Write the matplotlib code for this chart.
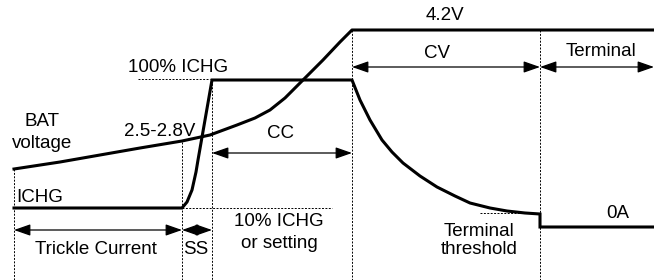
import matplotlib.pyplot as plt

plt.rcParams['font.family'] = ['Liberation Sans', 'DejaVu Sans']

# battery voltage curve (diagram units, y grows downward)
volt_x = [14, 60, 100, 140, 182, 210, 237, 255, 270, 285, 303, 323, 340, 352, 654]
volt_y = [169, 162, 155, 148, 141, 135, 125, 118, 110, 98, 80, 60, 42, 30, 30]

# charge current curve
cur_x = [14, 182, 187, 192, 196, 198, 212, 352, 360, 370, 382, 392, 403, 420,
         437, 455, 470, 490, 507, 525, 540, 540, 654]
cur_y = [208, 208, 202, 190, 172, 160, 80, 80, 100, 120, 140, 152, 163, 176,
         187, 196, 203, 208, 211, 213, 214, 227, 227]

# phase boundaries (x, top of dashed line)
bounds_x = [14, 182, 212, 352, 540]
bounds_top = [169, 142, 80, 30, 30]

# phase arrows: (x0, x1, y)
phases = [(14, 182, 230), (182, 212, 230), (212, 352, 153),
          (352, 540, 67), (540, 654, 67)]

# dashed level markers: (x0, x1, y)
levels = [(138, 210, 79), (182, 332, 208), (480, 540, 213)]

labels = [
    (445, 15, '4.2V'), (178, 67, '100% ICHG'), (42, 121, 'BAT'),
    (42, 143, 'voltage'), (160, 132, '2.5-2.8V'), (280, 133, 'CC'),
    (437, 53, 'CV'), (601, 52, 'Terminal'), (96, 250, 'Trickle Current'),
    (196, 250, 'SS'), (279, 221, '10% ICHG'), (279, 243, 'or setting'),
    (479, 232, 'Terminal'), (479, 250, 'threshold'), (618, 213, '0A'),
]

fig = plt.figure(figsize=(6.54, 2.8), dpi=100)
ax = fig.add_axes([0, 0, 1, 1])
ax.set_xlim(0, 654)
ax.set_ylim(280, 0)
ax.axis('off')

for x, top in zip(bounds_x, bounds_top):
    ax.plot([x, x], [top, 280], color='k', lw=0.7, ls=(0, (2, 1.5)))

for x0, x1, y in levels:
    ax.plot([x0, x1], [y, y], color='k', lw=0.7, ls=(0, (2, 1.5)))

ax.plot(volt_x, volt_y, color='k', lw=2.2, solid_joinstyle='round')
ax.plot(cur_x, cur_y, color='k', lw=2.2, solid_joinstyle='miter')

for x0, x1, y in phases:
    ax.annotate('', xy=(x1, y), xytext=(x0, y),
                arrowprops=dict(arrowstyle='<|-|>,head_length=1.0,head_width=0.35',
                                color='k', lw=0.9, shrinkA=0, shrinkB=0))

# left-aligned label
ax.text(16, 197, 'ICHG', fontsize=13.5, ha='left', va='center')
for x, y, s in labels:
    ax.text(x, y, s, fontsize=13.5, ha='center', va='center')

fig.savefig('out.png', dpi=100)
